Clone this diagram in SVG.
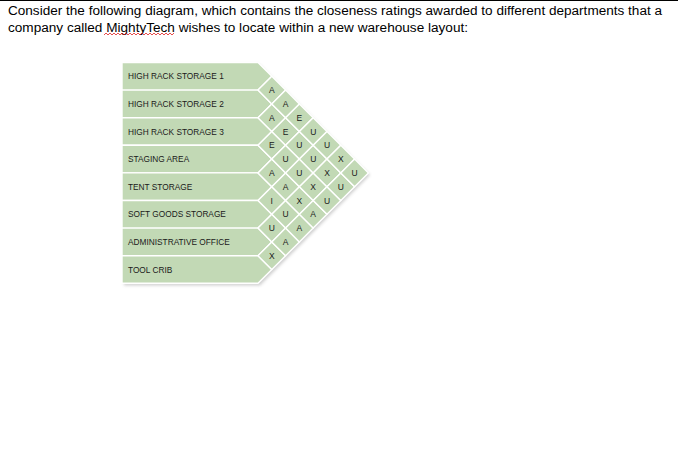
<svg xmlns="http://www.w3.org/2000/svg" width="678" height="452" viewBox="0 0 678 452">
<style>
.hd{font-family:"Liberation Sans",Arial,sans-serif;font-size:12.5px;fill:#000}
.cell{fill:#c2d9b5;stroke:#fff;stroke-width:1.4}
.lb{font-family:"Liberation Sans",Arial,sans-serif;font-size:8.3px;fill:#1a1a1a}
.lt{font-family:"Liberation Sans",Arial,sans-serif;font-size:8.5px;fill:#1a1a1a;text-anchor:middle;dominant-baseline:central}
</style>
<defs><filter id="sh" x="-10%" y="-10%" width="130%" height="130%"><feGaussianBlur stdDeviation="1.5"/></filter>
<polygon id="d" points="0,-13.8 13.8,0 0,13.8 -13.8,0"/></defs>
<rect width="678" height="452" fill="#fff"/>
<line x1="0" y1="0.5" x2="678" y2="0.5" stroke="#000" stroke-width="1.2"/>
<text class="hd" x="8" y="15" textLength="654" lengthAdjust="spacingAndGlyphs">Consider the following diagram, which contains the closeness ratings awarded to different departments that a</text>
<text class="hd" x="8" y="32" textLength="460" lengthAdjust="spacingAndGlyphs">company called MightyTech wishes to locate within a new warehouse layout:</text>
<polyline points="104,35 106,33 108,35 110,33 112,35 114,33 116,35 118,33 120,35 122,33 124,35 126,33 128,35 130,33 132,35 134,33 136,35 138,33 140,35 142,33 144,35 146,33 148,35 150,33 152,35 154,33 156,35 158,33 160,35 162,33 164,35 166,33 168,35 170,33 172,35 174,33" fill="none" stroke="#d00" stroke-width="0.7"/>
<polygon points="124,64.5 259,64.5 370,175 260,285.5 124,285.5" fill="#999" opacity="0.45" filter="url(#sh)"/>
<g id="rows">
<g id="r1"><polygon class="cell" points="122,62.5 258,62.5 271.8,76.3 258,90.1 122,90.1"/><text class="lb" x="128" y="79.3">HIGH RACK STORAGE 1</text></g>
<g id="r2"><polygon class="cell" points="122,90.1 258,90.1 271.8,103.9 258,117.7 122,117.7"/><text class="lb" x="128" y="106.9">HIGH RACK STORAGE 2</text></g>
<g id="r3"><polygon class="cell" points="122,117.7 258,117.7 271.8,131.5 258,145.3 122,145.3"/><text class="lb" x="128" y="134.5">HIGH RACK STORAGE 3</text></g>
<g id="r4"><polygon class="cell" points="122,145.3 258,145.3 271.8,159.1 258,172.9 122,172.9"/><text class="lb" x="128" y="162.1">STAGING AREA</text></g>
<g id="r5"><polygon class="cell" points="122,172.9 258,172.9 271.8,186.7 258,200.5 122,200.5"/><text class="lb" x="128" y="189.7">TENT STORAGE</text></g>
<g id="r6"><polygon class="cell" points="122,200.5 258,200.5 271.8,214.3 258,228.1 122,228.1"/><text class="lb" x="128" y="217.3">SOFT GOODS STORAGE</text></g>
<g id="r7"><polygon class="cell" points="122,228.1 258,228.1 271.8,241.9 258,255.7 122,255.7"/><text class="lb" x="128" y="244.9">ADMINISTRATIVE OFFICE</text></g>
<g id="r8"><polygon class="cell" points="122,255.7 258,255.7 271.8,269.5 258,283.3 122,283.3"/><text class="lb" x="128" y="272.5">TOOL CRIB</text></g>
</g>
<g id="cells">
<g transform="translate(271.8,90.1)"><use href="#d" class="cell"/><text class="lt">A</text></g>
<g transform="translate(271.8,117.7)"><use href="#d" class="cell"/><text class="lt">A</text></g>
<g transform="translate(271.8,145.3)"><use href="#d" class="cell"/><text class="lt">E</text></g>
<g transform="translate(271.8,172.9)"><use href="#d" class="cell"/><text class="lt">A</text></g>
<g transform="translate(271.8,200.5)"><use href="#d" class="cell"/><text class="lt">I</text></g>
<g transform="translate(271.8,228.1)"><use href="#d" class="cell"/><text class="lt">U</text></g>
<g transform="translate(271.8,255.7)"><use href="#d" class="cell"/><text class="lt">X</text></g>
<g transform="translate(285.6,103.9)"><use href="#d" class="cell"/><text class="lt">A</text></g>
<g transform="translate(285.6,131.5)"><use href="#d" class="cell"/><text class="lt">E</text></g>
<g transform="translate(285.6,159.1)"><use href="#d" class="cell"/><text class="lt">U</text></g>
<g transform="translate(285.6,186.7)"><use href="#d" class="cell"/><text class="lt">A</text></g>
<g transform="translate(285.6,214.3)"><use href="#d" class="cell"/><text class="lt">U</text></g>
<g transform="translate(285.6,241.9)"><use href="#d" class="cell"/><text class="lt">A</text></g>
<g transform="translate(299.4,117.7)"><use href="#d" class="cell"/><text class="lt">E</text></g>
<g transform="translate(299.4,145.3)"><use href="#d" class="cell"/><text class="lt">U</text></g>
<g transform="translate(299.4,172.9)"><use href="#d" class="cell"/><text class="lt">U</text></g>
<g transform="translate(299.4,200.5)"><use href="#d" class="cell"/><text class="lt">X</text></g>
<g transform="translate(299.4,228.1)"><use href="#d" class="cell"/><text class="lt">A</text></g>
<g transform="translate(313.2,131.5)"><use href="#d" class="cell"/><text class="lt">U</text></g>
<g transform="translate(313.2,159.1)"><use href="#d" class="cell"/><text class="lt">U</text></g>
<g transform="translate(313.2,186.7)"><use href="#d" class="cell"/><text class="lt">X</text></g>
<g transform="translate(313.2,214.3)"><use href="#d" class="cell"/><text class="lt">A</text></g>
<g transform="translate(327,145.3)"><use href="#d" class="cell"/><text class="lt">U</text></g>
<g transform="translate(327,172.9)"><use href="#d" class="cell"/><text class="lt">X</text></g>
<g transform="translate(327,200.5)"><use href="#d" class="cell"/><text class="lt">U</text></g>
<g transform="translate(340.8,159.1)"><use href="#d" class="cell"/><text class="lt">X</text></g>
<g transform="translate(340.8,186.7)"><use href="#d" class="cell"/><text class="lt">U</text></g>
<g transform="translate(354.6,172.9)"><use href="#d" class="cell"/><text class="lt">U</text></g>
</g>
</svg>
